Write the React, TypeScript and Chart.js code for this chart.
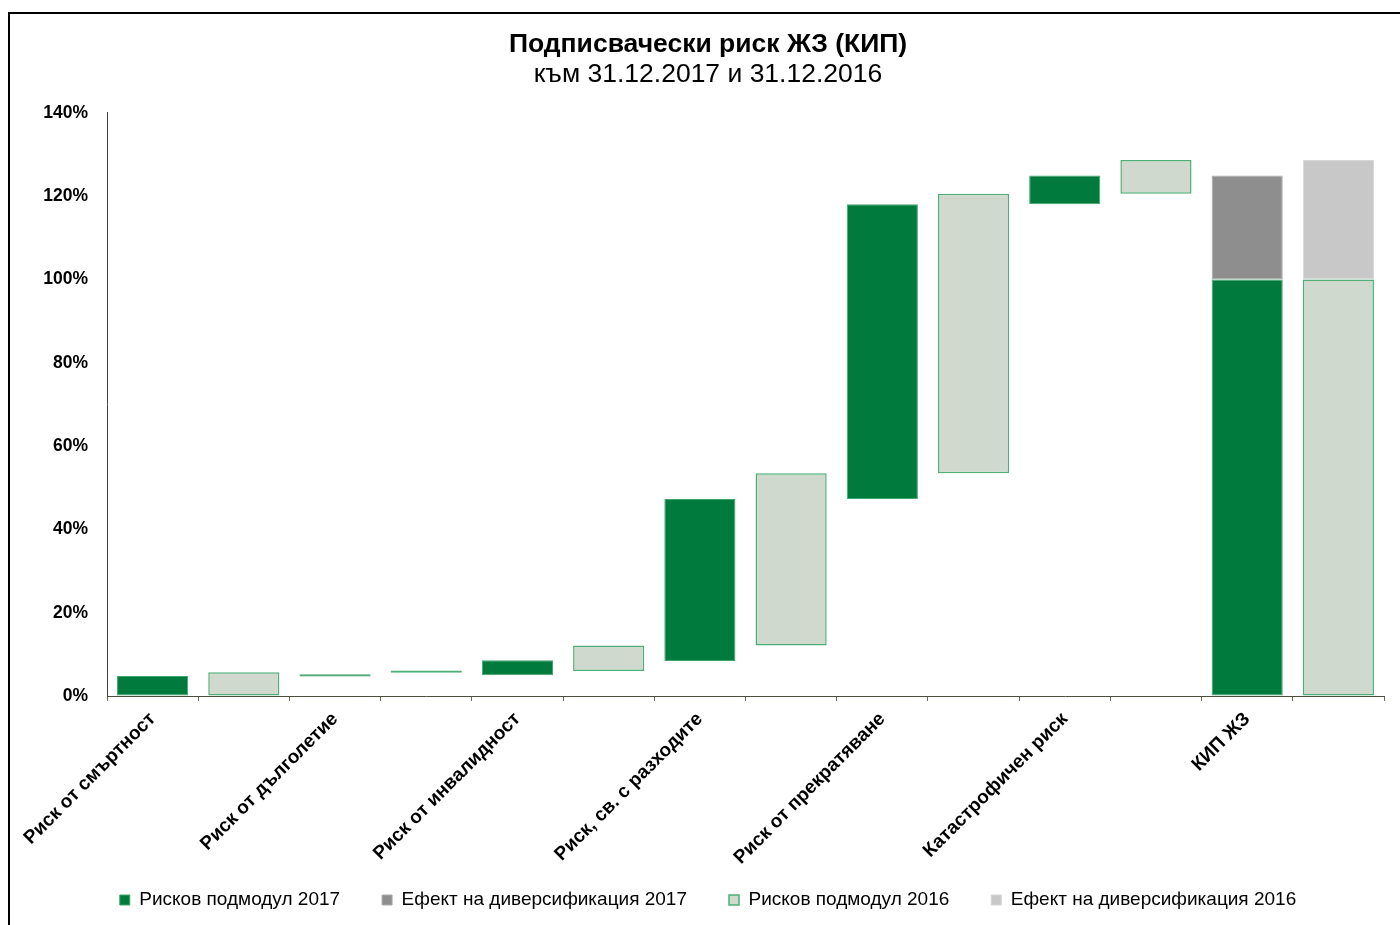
import React, { useEffect, useRef } from "react";
import { Chart, registerables } from "chart.js";

Chart.register(...registerables);

const titleText = "Подписвачески риск ЖЗ (КИП)";
const subtitleText = "към 31.12.2017 и 31.12.2016";

// 14 slots: each risk module has a 2017 slot and a 2016 slot
const categories = [
  "Риск от смъртност", "",
  "Риск от дълголетие", "",
  "Риск от инвалидност", "",
  "Риск, св. с разходите", "",
  "Риск от прекратяване", "",
  "Катастрофичен риск", "",
  "КИП ЖЗ", "",
];

const seriesNames = [
  "Рисков подмодул 2017",
  "Ефект на диверсификация 2017",
  "Рисков подмодул 2016",
  "Ефект на диверсификация 2016",
];

// floating bars [from %, to %]
const riskModule2017 = [
  [0, 4.8], null,
  [4.7, 5.2], null,
  [5.0, 8.6], null,
  [8.4, 47.3], null,
  [47.3, 118.1], null,
  [118.1, 125.0], null,
  [0, 100], null,
];

const diversification2017 = [
  null, null, null, null, null, null, null, null, null, null, null, null,
  [100, 125.0], null,
];

const riskModule2016 = [
  null, [0, 5.7],
  null, [5.6, 6.1],
  null, [6.0, 12.1],
  null, [12.1, 53.5],
  null, [53.5, 120.6],
  null, [120.6, 128.7],
  null, [0, 100],
];

const diversification2016 = [
  null, null, null, null, null, null, null, null, null, null, null, null,
  null, [100, 128.7],
];

const yTicks = [0, 20, 40, 60, 80, 100, 120, 140];

const FONT = "Arial, 'Liberation Sans', sans-serif";

export default function App() {
  const ref = useRef<HTMLCanvasElement>(null);

  useEffect(() => {
    if (!ref.current) return;
    const chart = new Chart(ref.current, {
      type: "bar",
      data: {
        labels: categories,
        datasets: [
          {
            label: seriesNames[0],
            data: riskModule2017 as any,
            backgroundColor: "#007A3D",
            borderColor: "#3FA76C",
            borderWidth: 1,
            borderSkipped: false,
            grouped: false,
          },
          {
            label: seriesNames[1],
            data: diversification2017 as any,
            backgroundColor: "#8E8E8E",
            borderColor: "#AAAAAA",
            borderWidth: 1,
            borderDash: [2, 2],
            borderSkipped: false,
            grouped: false,
          } as any,
          {
            label: seriesNames[2],
            data: riskModule2016 as any,
            backgroundColor: "#CFD9CD",
            borderColor: "#4FAE78",
            borderWidth: 1.5,
            borderSkipped: false,
            grouped: false,
          },
          {
            label: seriesNames[3],
            data: diversification2016 as any,
            backgroundColor: "#C8C8C8",
            borderColor: "#D6D6D6",
            borderWidth: 1,
            borderDash: [2, 2],
            borderSkipped: false,
            grouped: false,
          } as any,
        ],
      },
      options: {
        responsive: false,
        animation: false,
        datasets: {
          bar: { barPercentage: 0.78, categoryPercentage: 1 },
        },
        layout: { padding: { left: 22, right: 16, top: 0, bottom: 5.5 } },
        plugins: {
          title: {
            display: true,
            text: titleText,
            color: "#000",
            font: { family: FONT, size: 26.5, weight: "bold", lineHeight: 1.15 },
            padding: { top: 15, bottom: 0 },
          },
          subtitle: {
            display: true,
            text: subtitleText,
            color: "#000",
            font: { family: FONT, size: 26.5, weight: "normal", lineHeight: 1.15 },
            padding: { top: 0, bottom: 23 },
          },
          legend: {
            display: true,
            position: "bottom",
            labels: {
              color: "#000",
              font: { family: FONT, size: 19 },
              boxWidth: 10,
              boxHeight: 10,
              padding: 42,
            },
          },
          tooltip: { enabled: false },
        },
        scales: {
          x: {
            offset: true,
            grid: {
              offset: true,
              drawOnChartArea: false,
              drawTicks: true,
              tickLength: 5,
              color: "#6b6b5a",
            },
            border: { display: true, color: "#4d4d40", width: 1 },
            ticks: {
              autoSkip: false,
              maxRotation: 45,
              minRotation: 45,
              padding: 7,
              color: "#000",
              font: { family: FONT, size: 19, weight: "bold" },
            },
            afterFit: (scale: any) => {
              scale.height = 152.5;
              // let the rotated labels run below the axis box instead of being clipped
              scale._computeLabelArea = () => undefined;
            },
          },
          y: {
            min: 0,
            max: 140,
            afterBuildTicks: (scale: any) => {
              scale.ticks = yTicks.map((v) => ({ value: v }));
            },
            grid: { display: true, drawOnChartArea: false, drawTicks: false },
            border: { display: true, color: "#404040", width: 1 },
            ticks: {
              padding: 19,
              color: "#000",
              font: { family: FONT, size: 17.5, weight: "bold" },
              callback: (v: any) => `${v}%`,
            },
            afterFit: (scale: any) => {
              scale.width = 75;
            },
          },
        },
      },
    });
    return () => chart.destroy();
  }, []);

  return (
    <div
      style={{
        position: "fixed",
        left: 8,
        top: 12,
        width: 1392,
        height: 913,
        borderLeft: "2px solid #000",
        borderTop: "2px solid #000",
        overflow: "hidden",
        background: "#fff",
      }}
    >
      <canvas ref={ref} width={1390} height={911} style={{ display: "block" }} />
    </div>
  );
}
